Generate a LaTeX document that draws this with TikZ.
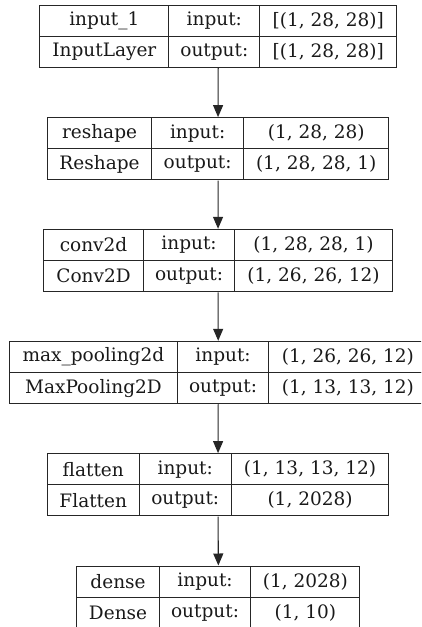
\documentclass[tikz,border=0pt]{standalone}
\usepackage{fontspec}
\setmainfont{DejaVu Serif}
\usetikzlibrary{arrows.meta,fit}
\tikzset{
  cell/.style={draw=black!85, line width=1.1pt, inner sep=0pt, anchor=north west,
    minimum height=31pt, font=\fontsize{18.5}{21}\selectfont, text=black!90},
  boxfit/.style={inner sep=0pt, draw=none},
  conn/.style={draw=black!85, line width=1.1pt, -{Triangle[length=12pt,width=10pt]}}
}
\begin{document}
\begin{tikzpicture}[x=1pt,y=-1pt]
\useasboundingbox (0,0) rectangle (421,627);
\clip (0,0) rectangle (421,627);
% box 1
\node[cell,minimum width=129pt] (a1) at (39.3,4.7) {input\_1};
\node[cell,minimum width=91pt] (a2) at (168.3,4.7) {input:};
\node[cell,minimum width=136.7pt] (a3) at (259.3,4.7) {[(1, 28, 28)]};
\node[cell,minimum width=129pt] (a4) at (39.3,35.7) {InputLayer};
\node[cell,minimum width=91pt] (a5) at (168.3,35.7) {output:};
\node[cell,minimum width=136.7pt] (a6) at (259.3,35.7) {[(1, 28, 28)]};
\node[boxfit,fit=(a1)(a6)] (b1) {};
% box 2
\node[cell,minimum width=104.6pt] (c1) at (46.7,117.3) {reshape};
\node[cell,minimum width=91.7pt] (c2) at (151.3,117.3) {input:};
\node[cell,minimum width=145.3pt] (c3) at (243,117.3) {(1, 28, 28)};
\node[cell,minimum width=104.6pt] (c4) at (46.7,148.3) {Reshape};
\node[cell,minimum width=91.7pt] (c5) at (151.3,148.3) {output:};
\node[cell,minimum width=145.3pt] (c6) at (243,148.3) {(1, 28, 28, 1)};
\node[boxfit,fit=(c1)(c6)] (b2) {};
% box 3
\node[cell,minimum width=99.4pt] (d1) at (43.3,229) {conv2d};
\node[cell,minimum width=91.6pt] (d2) at (142.7,229) {input:};
\node[cell,minimum width=157.4pt] (d3) at (234.3,229) {(1, 28, 28, 1)};
\node[cell,minimum width=99.4pt] (d4) at (43.3,260) {Conv2D};
\node[cell,minimum width=91.6pt] (d5) at (142.7,260) {output:};
\node[cell,minimum width=157.4pt] (d6) at (234.3,260) {(1, 26, 26, 12)};
\node[boxfit,fit=(d1)(d6)] (b3) {};
% box 4
\node[cell,minimum width=167.7pt] (e1) at (9,341) {max\_pooling2d};
\node[cell,minimum width=91.6pt] (e2) at (176.7,341) {input:};
\node[cell,minimum width=158pt] (e3) at (268.3,341) {(1, 26, 26, 12)};
\node[cell,minimum width=167.7pt] (e4) at (9,372) {MaxPooling2D};
\node[cell,minimum width=91.6pt] (e5) at (176.7,372) {output:};
\node[cell,minimum width=158pt] (e6) at (268.3,372) {(1, 13, 13, 12)};
\node[boxfit,fit=(e1)(e6)] (b4) {};
% box 5
\node[cell,minimum width=92pt] (f1) at (46.7,453.3) {flatten};
\node[cell,minimum width=92pt] (f2) at (138.7,453.3) {input:};
\node[cell,minimum width=157.6pt] (f3) at (230.7,453.3) {(1, 13, 13, 12)};
\node[cell,minimum width=92pt] (f4) at (46.7,484.3) {Flatten};
\node[cell,minimum width=92pt] (f5) at (138.7,484.3) {output:};
\node[cell,minimum width=157.6pt] (f6) at (230.7,484.3) {(1, 2028)};
\node[boxfit,fit=(f1)(f6)] (b5) {};
% box 6
\node[cell,minimum width=82.4pt] (g1) at (76.3,565.7) {dense};
\node[cell,minimum width=91.6pt] (g2) at (158.7,565.7) {input:};
\node[cell,minimum width=109pt] (g3) at (250.3,565.7) {(1, 2028)};
\node[cell,minimum width=82.4pt] (g4) at (76.3,596.7) {Dense};
\node[cell,minimum width=91.6pt] (g5) at (158.7,596.7) {output:};
\node[cell,minimum width=109pt] (g6) at (250.3,596.7) {(1, 10)};
\node[boxfit,fit=(g1)(g6)] (b6) {};
% connectors
\draw[conn] (b1.south) -- (b2.north);
\draw[conn] (b2.south) -- (b3.north);
\draw[conn] (b3.south) -- (b4.north);
\draw[conn] (b4.south) -- (b5.north);
\draw[conn] (b5.south) -- (b6.north);
\end{tikzpicture}
\end{document}
